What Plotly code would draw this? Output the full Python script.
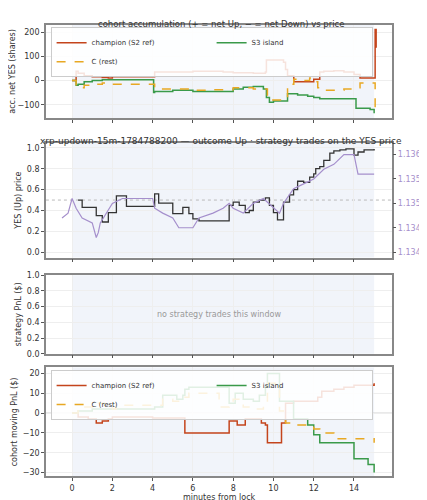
import plotly.graph_objects as go

# Panel 1: accumulation
acc_champ_t = [0,0.2,0.3,0.6,1,1.5,1.8,2,4.05,4.1,5.6,6,7.5,8,9,9.6,9.65,10.5,10.6,10.7,11,11.01,11.7,12,12.3,12.5,13,13.5,14,14.3,15,15.05,15.1]
acc_champ_v = [0,38,30,20,15,12,10,15,15,35,35,38,35,32,30,35,85,75,45,20,20,-5,-5,5,35,38,40,35,25,10,10,210,135]
acc_s3_t = [0,0.2,0.3,0.6,1,1.5,2,4,4.05,4.1,5,6,7.5,8,8.5,9,9.5,9.65,9.8,10,10.6,10.7,11,11.2,11.7,12,12.3,13,14,14.1,14.8,15]
acc_s3_v = [0,-20,-15,-5,0,3,3,3,-50,-45,-40,-45,-45,-35,-28,-25,-35,-70,-90,-85,-85,-55,-55,-60,-65,-70,-75,-75,-75,-115,-120,-135]
acc_c_t = [0,0.2,0.3,0.6,1,1.5,2,4,4.1,5,6,7,8,9,9.5,9.7,10,10.6,10.7,11,11.01,11.5,11.8,12,12.2,12.5,13,13.5,14,14.3,15,15.05]
acc_c_v = [0,-30,-30,-20,-15,-10,-15,-15,-35,-35,-40,-38,-30,-35,-35,-80,-80,-80,-15,-15,5,0,10,-5,-30,-40,-40,-35,-30,-10,-10,-130]

# Panel 2: YES price and XRP
yes_t = [0.3,0.5,1,1.2,1.5,1.8,2.1,2.2,2.6,2.7,4,4.1,4.3,5,5.5,5.8,6,6.3,7.6,7.8,8,8.3,8.6,8.8,9,9.3,9.6,9.8,10,10.2,10.5,10.8,11,11.2,11.5,11.8,12,12.1,12.3,12.5,12.8,13,13.3,13.6,14,14.2,14.5,15]
yes_v = [0.5,0.43,0.43,0.35,0.29,0.38,0.38,0.54,0.54,0.44,0.44,0.56,0.47,0.37,0.43,0.37,0.32,0.30,0.30,0.45,0.48,0.45,0.38,0.40,0.48,0.50,0.52,0.45,0.38,0.31,0.48,0.55,0.60,0.68,0.67,0.72,0.75,0.80,0.82,0.88,0.95,0.97,0.98,0.99,0.93,0.96,0.98,0.99]
xrp_t = [-0.5,-0.2,0,0.2,0.5,1,1.2,1.3,1.4,1.7,2,2.5,3,4,4.1,4.5,5,5.3,6,6.3,7,7.5,7.8,8,8.5,9,9.5,10,10.3,10.5,11,11.5,12,12.5,13,13.5,14,14.2,14.5,15]
xrp_v = [1.1347,1.1348,1.1351,1.1349,1.1347,1.1346,1.1343,1.1344,1.1346,1.1348,1.1350,1.1351,1.1351,1.1351,1.1349,1.1348,1.1347,1.1345,1.1345,1.1347,1.1348,1.1349,1.1350,1.1349,1.1348,1.1350,1.1351,1.1349,1.1348,1.1350,1.1353,1.1354,1.1355,1.1357,1.1358,1.1360,1.1360,1.1356,1.1356,1.1356]

# Panel 4: PnL
pnl_champ_t = [0,0.3,0.8,1.2,1.5,1.8,2,4,5.6,7.8,8.2,8.6,9.4,9.6,9.7,10.4,10.6,11,12.2,12.4,13,13.5,14,14.9,15]
pnl_champ_v = [0,-2,-3,-5,-4,-3,-2,-2.5,-10,-4,-6,-3,-5,-6,-15,-5,5,6,8,11,12,13,14,14,15]
pnl_s3_t = [0,0.3,1,2,4,4.1,4.5,5.2,5.5,5.6,5.8,7.8,8.1,8.5,9,9.3,9.6,9.7,10.3,11,11.7,12,12.3,14,14.7,15]
pnl_s3_v = [0,1,2,2,2,3,9,7,9,12,13,5,10,7,6,9,13,20,6,-3,-6,-11,-15,-23,-26,-30]
pnl_c_t = [0,0.3,1,1.3,1.6,2,2.2,4,4.5,5,5.6,5.8,7.3,7.8,8,8.5,9,9.5,9.7,10.3,10.6,11,12,12.3,13,14.9,15]
pnl_c_v = [0,3,4,5,3,2,4,4,7,6,8,10,3,5,7,3,2,5,15,1,-5,-6,-8,-10,-13,-13,-15]

C_CH = "#c4441c"; C_S3 = "#3a9a4a"; C_C = "#e8a823"; C_X = "#a58fcc"
fig = go.Figure()
def line(t, v, col, name, xa, ya, dash="solid", legend=None, show=False, w=1.5):
    fig.add_trace(go.Scatter(x=t, y=v, mode="lines", line=dict(color=col, width=w, dash=dash, shape="hv"),
                             name=name, xaxis=xa, yaxis=ya, showlegend=show, legend=legend))

line(acc_champ_t, acc_champ_v, C_CH, "champion (S2 ref)", "x", "y", show=True, legend="legend")
line(acc_s3_t, acc_s3_v, C_S3, "S3 island", "x", "y", show=True, legend="legend")
line(acc_c_t, acc_c_v, C_C, "C (rest)", "x", "y", dash="dash", show=True, legend="legend")
fig.add_trace(go.Scatter(x=xrp_t, y=xrp_v, mode="lines", line=dict(color=C_X, width=1.2), xaxis="x2", yaxis="y5", showlegend=False))
line(yes_t, yes_v, "#333333", "YES", "x2", "y2", w=1.3)
fig.add_trace(go.Scatter(x=[0], y=[None], xaxis="x3", yaxis="y3", showlegend=False))
line(pnl_champ_t, pnl_champ_v, C_CH, "champion (S2 ref)", "x4", "y4", show=True, legend="legend2")
line(pnl_s3_t, pnl_s3_v, C_S3, "S3 island", "x4", "y4", show=True, legend="legend2")
line(pnl_c_t, pnl_c_v, C_C, "C (rest)", "x4", "y4", dash="dash", show=True, legend="legend2")

doms = [[0.784, 0.974], [0.50, 0.734], [0.304, 0.464], [0.054, 0.276]]
ax = dict(range=[-1.3, 15.9], showgrid=True, gridcolor="#eeeeee", zeroline=False, showline=True, mirror=True,
          linecolor="#888", linewidth=1.5, ticks="outside", ticklen=3, tickcolor="#555", tickvals=[0,2,4,6,8,10,12,14],
          domain=[0.089, 0.902], tickfont=dict(size=8))
ya = dict(showgrid=True, gridcolor="#eeeeee", zeroline=False, showline=True, mirror=True, linecolor="#888", linewidth=1.5,
          ticks="outside", ticklen=3, tickcolor="#555", tickfont=dict(size=8), title_font=dict(size=8), title_standoff=4)
lay = dict(width=427, height=500, margin=dict(l=0, r=0, t=0, b=0), plot_bgcolor="white", paper_bgcolor="white",
           font=dict(family="DejaVu Sans", color="#333", size=8))
for i in range(4):
    k = "" if i == 0 else str(i+1)
    lay["xaxis"+k] = dict(ax, anchor="y"+k, showticklabels=(i == 3), **({} if i == 0 else {"matches": "x"}))
lay["xaxis4"]["title"] = dict(text="minutes from lock", font=dict(size=8), standoff=2)
lay["yaxis"] = dict(ya, domain=doms[0], anchor="x", range=[-155, 230], tickvals=[-100, 0, 100, 200], title=dict(text="acc. net YES (shares)"))
lay["yaxis2"] = dict(ya, domain=doms[1], anchor="x2", range=[-0.05, 1.05], tickvals=[0,0.2,0.4,0.6,0.8,1.0], tickformat=".1f", title=dict(text="YES (Up) price"))
lay["yaxis3"] = dict(ya, domain=doms[2], anchor="x3", range=[0, 1], tickvals=[0,0.2,0.4,0.6,0.8,1.0], tickformat=".1f", title=dict(text="strategy PnL ($)"))
lay["yaxis4"] = dict(ya, domain=doms[3], anchor="x4", range=[-32, 23], tickvals=[-30,-20,-10,0,10,20], title=dict(text="cohort moving PnL ($)"))
lay["yaxis5"] = dict(ya, overlaying="y2", side="right", anchor="x2", range=[1.13389, 1.136246], showgrid=False, mirror=False, showline=False,
                     tickvals=[1.1340,1.1345,1.1350,1.1355,1.1360], tickformat=".4f", tickfont=dict(size=8, color=C_X),
                     title=dict(text="XRP/USD (strike dotted = YES 0.5)", font=dict(size=7, color=C_X)))
leg = dict(orientation="h", x=0.1, xanchor="left", y=0.97, yanchor="top", bgcolor="rgba(255,255,255,0.85)",
           bordercolor="#ccc", borderwidth=1, font=dict(size=7), entrywidth=115, tracegroupgap=0)
lay["legend"] = dict(leg, y=doms[0][1]-0.005, entrywidth=115)
lay["legend2"] = dict(leg, y=doms[3][1]-0.005, entrywidth=115)
fig.update_layout(**lay)

shapes = []
for i, d in enumerate(doms):
    k = "" if i == 0 else str(i+1)
    shapes.append(dict(type="rect", xref="x"+k, yref="y"+k+" domain", x0=0, x1=15, y0=0, y1=1, fillcolor="rgba(225,230,245,0.45)", line_width=0, layer="below"))
for k, yv in [("", 0), ("4", 0)]:
    shapes.append(dict(type="line", xref="x"+k+" domain", yref="y"+k, x0=0, x1=1, y0=yv, y1=yv, line=dict(color="#cccccc", width=1), layer="below"))
shapes.append(dict(type="line", xref="x2 domain", yref="y2", x0=0, x1=1, y0=0.5, y1=0.5, line=dict(color="#bbbbbb", width=1, dash="dot"), layer="below"))
fig.update_layout(shapes=shapes)

anns = [
    dict(text="cohort accumulation (+ = net Up, − = net Down) vs price", x=0.5, y=0.99, xref="paper", yref="paper", showarrow=False, font=dict(size=8.5)),
    dict(text="xrp-updown-15m-1784788200 — outcome Up · strategy trades on the YES price", x=0.5, y=0.752, xref="paper", yref="paper", showarrow=False, font=dict(size=9)),
    dict(text="no strategy trades this window", x=0.5, y=0.5, xref="x3 domain", yref="y3 domain", showarrow=False, font=dict(size=8, color="#999")),
]
fig.update_layout(annotations=anns)
fig.write_html("out.html")
